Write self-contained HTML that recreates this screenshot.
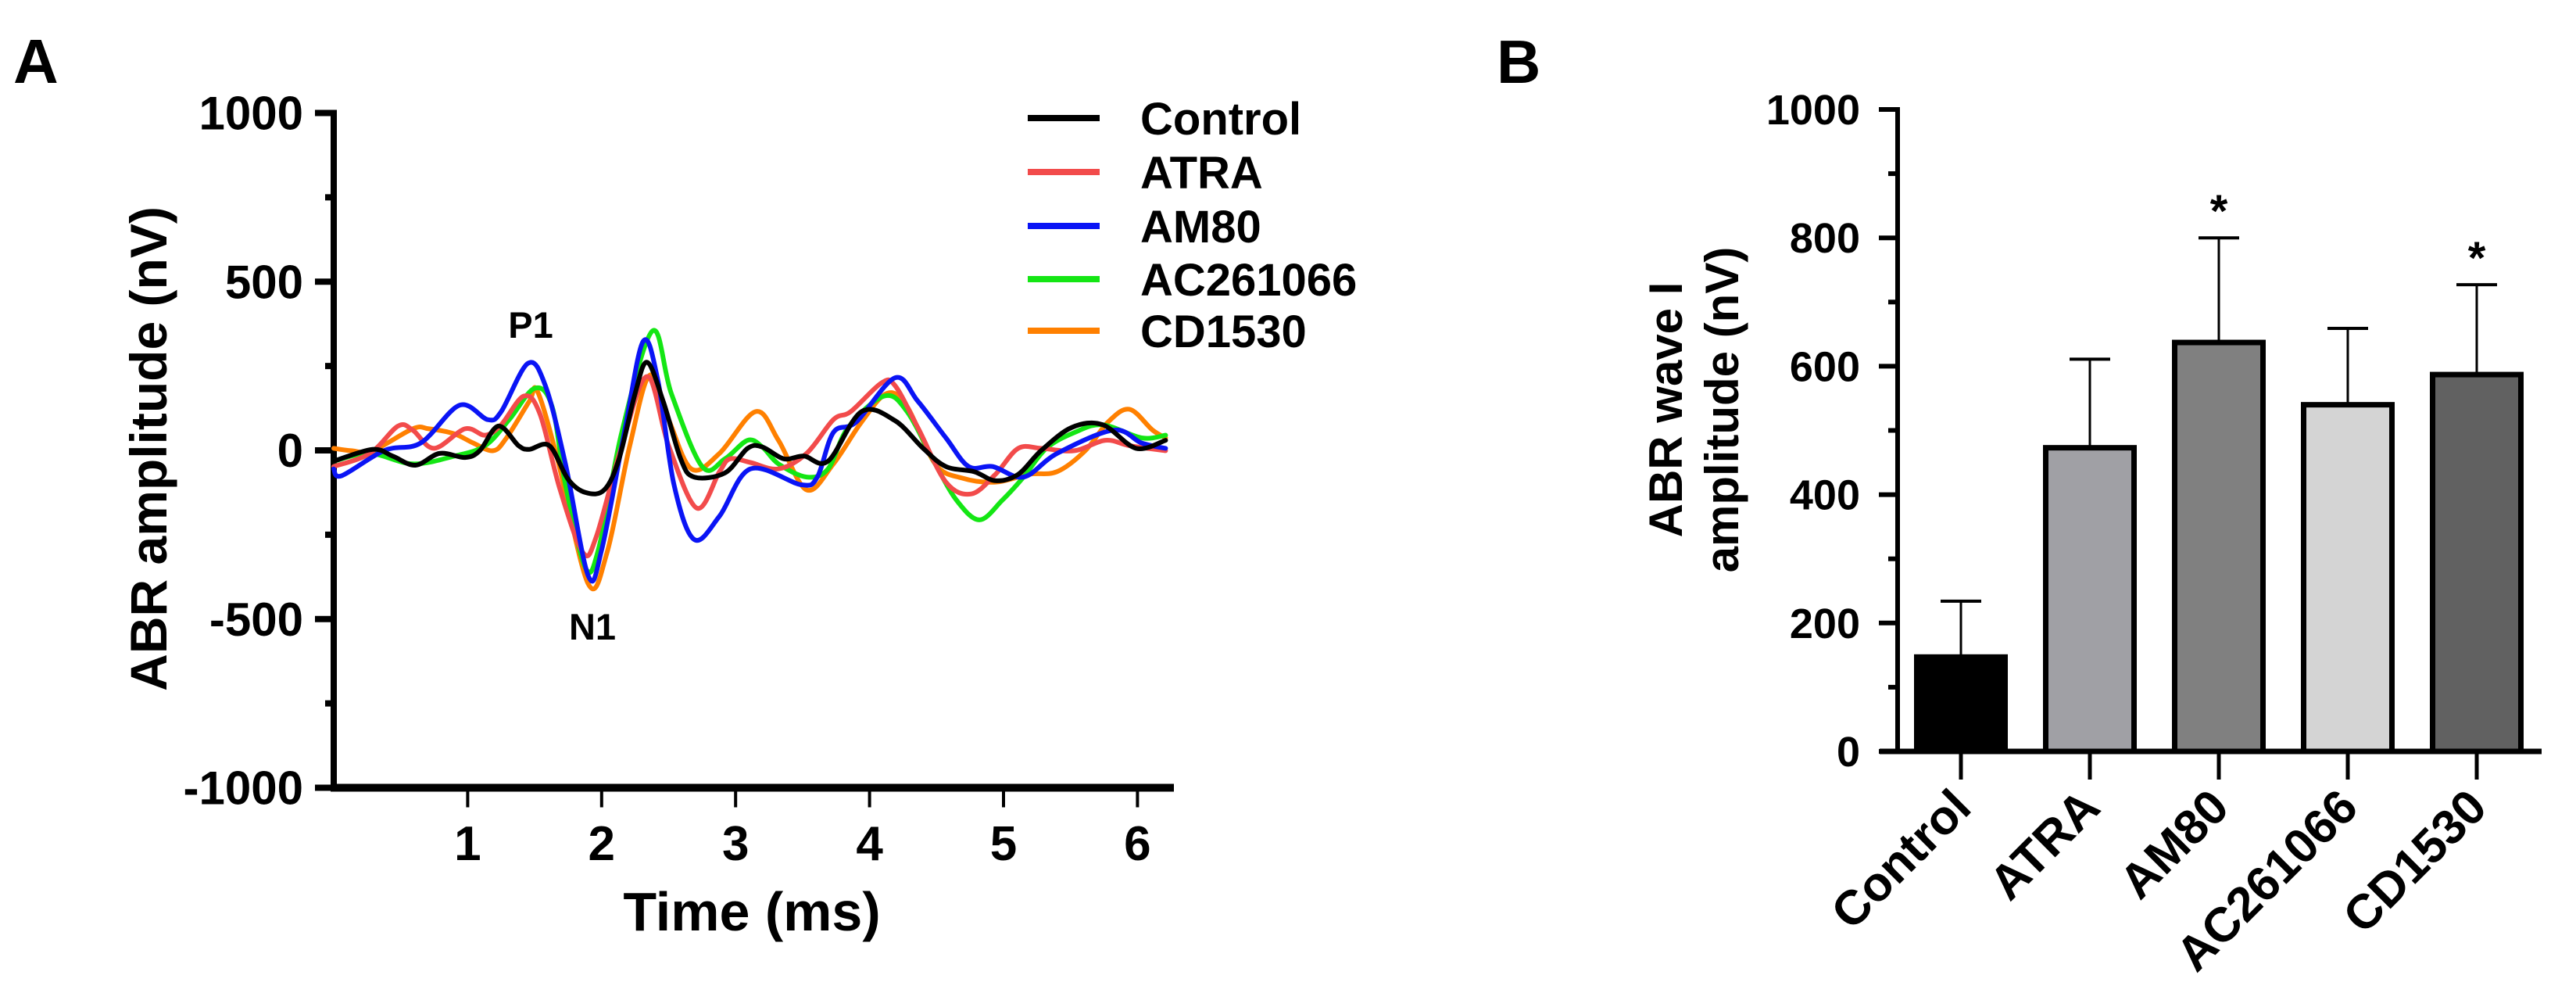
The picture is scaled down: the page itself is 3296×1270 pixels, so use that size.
<!DOCTYPE html>
<html><head><meta charset="utf-8"><style>
html,body{margin:0;padding:0;background:#fff;}
svg{display:block;font-family:"Liberation Sans",Arial,sans-serif;font-weight:bold;}
</style></head><body>
<svg id="fig" width="3296" height="1270" viewBox="0 0 3296 1270" xmlns="http://www.w3.org/2000/svg">
<g id="panelA"></g>
<g id="panelB"></g>
</svg>
<script>
// ---------- Panel A data ----------
const seriesNames = ["Control","ATRA","AM80","AC261066","CD1530"];
const seriesColors = ["#000000","#f24b4b","#0a14f5","#14e614","#ff8000"];
const tControl = [0,.29,.44,.61,.79,.98,1.09,1.23,1.38,1.46,1.61,1.75,1.88,2.02,2.13,2.25,2.34,2.46,2.59,2.69,2.92,3.09,3.2,3.36,3.51,3.69,3.94,4.19,4.4,4.57,4.78,4.94,5.11,5.28,5.51,5.74,5.99,6.21];
const vControl = [-32,3,-17,-44,-9,-21,-1,72,14,3,14,-86,-125,-117,-25,169,261,145,-25,-79,-67,6,10,-25,-17,-32,115,88,6,-48,-63,-90,-71,-1,68,76,6,30];
const tATRA = [0,.27,.48,.59,.75,.98,1.13,1.25,1.42,1.54,1.69,1.86,1.96,2.15,2.34,2.5,2.71,2.88,2.96,3.11,3.32,3.53,3.73,3.86,4.09,4.19,4.36,4.57,4.76,4.94,5.11,5.28,5.53,5.76,5.94,6.21];
const vATRA = [-48,-9,72,60,6,64,45,76,161,107,-117,-303,-256,14,219,14,-171,-63,-25,-36,-55,-9,91,115,200,192,68,-94,-129,-71,6,6,-1,30,14,-1];
const tAM80 = [0,.06,.38,.65,.94,1.15,1.25,1.45,1.58,1.73,1.9,2.0,2.17,2.31,2.42,2.54,2.69,2.88,3.11,3.49,3.61,3.73,3.9,4.19,4.36,4.57,4.74,4.92,5.15,5.4,5.82,6.03,6.21];
const vAM80 = [-55,-75,0,22,134,91,115,258,192,-40,-372,-295,53,323,207,-102,-264,-195,-55,-102,-79,53,84,215,146,37,-48,-48,-79,-9,60,22,6];
const tAC = [0,.27,.59,.9,1.13,1.31,1.5,1.63,1.73,1.88,1.98,2.15,2.38,2.52,2.75,2.92,3.09,3.2,3.32,3.53,3.69,3.84,4.11,4.28,4.49,4.65,4.82,4.99,5.15,5.32,5.53,5.74,6.03,6.21];
const vAC = [-32,-9,-40,-17,14,91,184,130,-102,-349,-287,53,354,169,-48,-25,30,10,-40,-79,-55,68,161,115,-40,-148,-206,-148,-79,6,53,76,37,45];
const tCD = [0,.13,.29,.59,.71,.9,1.04,1.19,1.29,1.46,1.52,1.67,1.9,2.04,2.21,2.36,2.5,2.67,2.88,3.15,3.32,3.53,3.73,3.94,4.13,4.28,4.49,4.69,4.94,5.19,5.4,5.61,5.78,5.94,6.11,6.21];
const vCD = [6,-1,-1,64,64,49,22,-1,37,145,176,-25,-396,-303,14,223,91,-55,-9,115,30,-117,-40,84,169,130,-40,-82,-94,-71,-63,-1,84,122,61,37];
const xTicksA = [1,2,3,4,5,6];
const yTicksA = [1000,500,0,-500,-1000];

// ---------- Panel B data ----------
const groups = ["Control","ATRA","AM80","AC261066","CD1530"];
const means = [147,473,637,540,587];
const errs = [87,138,163,119,140];
const sig = [false,false,true,false,true];
const barColors = ["#000000","#a0a0a5","#808080","#d4d4d4","#616161"];
const yTicksB = [0,200,400,600,800,1000];

const NS="http://www.w3.org/2000/svg";
function mk(parent,tag,attrs,text){const e=document.createElementNS(NS,tag);for(const k in attrs)e.setAttribute(k,attrs[k]);if(text!==undefined)e.textContent=text;parent.appendChild(e);return e;}

// ---------- Panel A ----------
const A=document.getElementById('panelA');
const ax0=427, axEnd=1502, pxPerMs=171.4;
const y0A=576, pxPerNv=0.4315;
const xA=t=>ax0+t*pxPerMs;
const yA=v=>y0A-v*pxPerNv;

let e;
e=mk(A,'text',{x:17,y:106,'font-size':80},'A');



// axes
e=mk(A,'line',{x1:ax0,y1:yA(1000)-4,x2:ax0,y2:yA(-1000)+5,stroke:'#000','stroke-width':8});


e=mk(A,'line',{x1:ax0-4,y1:yA(-1000),x2:axEnd,y2:yA(-1000),stroke:'#000','stroke-width':10});


for(let v=-1000; v<=1000; v+=250){
  const major = v%500===0;
  e=mk(A,'line',{x1:ax0-(major?24:11),y1:yA(v),x2:ax0,y2:yA(v),stroke:'#000','stroke-width':8});
  
  
}
yTicksA.forEach(v=>{
  e=mk(A,'text',{x:388,y:yA(v)+21,'font-size':60,'text-anchor':'end'},String(v));
  
  
});
xTicksA.forEach(t=>{
  e=mk(A,'line',{x1:xA(t),y1:yA(-1000),x2:xA(t),y2:yA(-1000)+25,stroke:'#000','stroke-width':4});
  
  
  e=mk(A,'text',{x:xA(t),y:1100,'font-size':62,'text-anchor':'middle'},String(t));
  
  
});
e=mk(A,'text',{x:962,y:1190,'font-size':70,'text-anchor':'middle'},'Time (ms)');


e=mk(A,'text',{x:0,y:0,'font-size':66,'text-anchor':'middle',transform:'translate(213,574) rotate(-90)'},'ABR amplitude (nV)');



function smoothPath(ts,vs){
  const P=ts.map((t,i)=>[xA(t),yA(vs[i])]);
  let d='M'+P[0][0].toFixed(1)+','+P[0][1].toFixed(1);
  for(let i=0;i<P.length-1;i++){
    const p0=P[Math.max(0,i-1)],p1=P[i],p2=P[i+1],p3=P[Math.min(P.length-1,i+2)];
    const c1=[p1[0]+(p2[0]-p0[0])/6,p1[1]+(p2[1]-p0[1])/6];
    const c2=[p2[0]-(p3[0]-p1[0])/6,p2[1]-(p3[1]-p1[1])/6];
    d+=' C'+c1[0].toFixed(1)+','+c1[1].toFixed(1)+' '+c2[0].toFixed(1)+','+c2[1].toFixed(1)+' '+p2[0].toFixed(1)+','+p2[1].toFixed(1);
  }
  return d;
}
const seriesT=[tControl,tATRA,tAM80,tAC,tCD];
const seriesV=[vControl,vATRA,vAM80,vAC,vCD];
const drawOrder=[4,3,1,2,0];
drawOrder.forEach(i=>{
  e=mk(A,'path',{d:smoothPath(seriesT[i],seriesV[i]),fill:'none',stroke:seriesColors[i],'stroke-width':6,'stroke-linejoin':'round','stroke-linecap':'round'});
  
  
});
e=mk(A,'text',{x:679,y:432,'font-size':47,'text-anchor':'middle'},'P1');


e=mk(A,'text',{x:758,y:818,'font-size':47,'text-anchor':'middle'},'N1');



// legend
const legRows=[151,220,289,357,423];
seriesNames.forEach((n,i)=>{
  const g=mk(A,'g',{});
  
  
  mk(g,'line',{x1:1315,y1:legRows[i],x2:1407,y2:legRows[i],stroke:seriesColors[i],'stroke-width':8});
  mk(g,'text',{x:1459,y:legRows[i]+21,'font-size':58},n);
});

// ---------- Panel B ----------
const B=document.getElementById('panelB');
const bx0=2428, bxEnd=3252, y0B=961, pxPerUnitB=0.821;
const yB=v=>y0B-v*pxPerUnitB;
const xB=i=>2509+i*165;
const barW=113;

e=mk(B,'text',{x:1915,y:106,'font-size':78},'B');



groups.forEach((g,i)=>{
  const top=yB(means[i]);
  const eb=yB(means[i]+errs[i]);
  e=mk(B,'line',{x1:xB(i),y1:top,x2:xB(i),y2:eb,stroke:'#000','stroke-width':3});
  
  
  e=mk(B,'line',{x1:xB(i)-26,y1:eb,x2:xB(i)+26,y2:eb,stroke:'#000','stroke-width':4});
  
  
  e=mk(B,'rect',{x:xB(i)-barW/2,y:top,width:barW,height:y0B-top,fill:barColors[i],stroke:'#000','stroke-width':7});
  
  
  if(sig[i]){
    e=mk(B,'text',{x:xB(i),y:eb-14,'font-size':58,'text-anchor':'middle'},'*');
    
    
  }
  e=mk(B,'line',{x1:xB(i),y1:y0B,x2:xB(i),y2:y0B+36,stroke:'#000','stroke-width':5});
  
  
  e=mk(B,'text',{x:0,y:0,'font-size':62,'text-anchor':'end',transform:'translate('+(xB(i)+16)+',1036) rotate(-45)'},g);
  
  
});
e=mk(B,'line',{x1:bx0,y1:yB(1000)-3,x2:bx0,y2:y0B+3,stroke:'#000','stroke-width':6});


e=mk(B,'line',{x1:2405,y1:y0B,x2:bxEnd,y2:y0B,stroke:'#000','stroke-width':7});


for(let v=0; v<=1000; v+=100){
  const major=v%200===0;
  e=mk(B,'line',{x1:bx0-(major?24:12),y1:yB(v),x2:bx0,y2:yB(v),stroke:'#000','stroke-width':6});
  
  
}
yTicksB.forEach(v=>{
  e=mk(B,'text',{x:2380,y:yB(v)+19,'font-size':54,'text-anchor':'end'},String(v));
  
  
});
e=mk(B,'text',{x:0,y:0,'font-size':60,'text-anchor':'middle',transform:'translate(2152,524) rotate(-90)'},'ABR wave I');


e=mk(B,'text',{x:0,y:0,'font-size':60,'text-anchor':'middle',transform:'translate(2224,524) rotate(-90)'},'amplitude (nV)');


</script>
</body></html>
